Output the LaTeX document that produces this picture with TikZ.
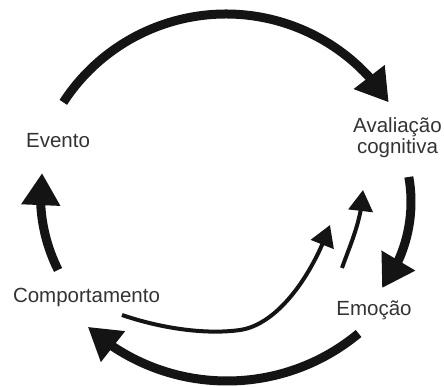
\documentclass[tikz,border=0pt]{standalone}
\usepackage{fontspec}
\setmainfont{Liberation Sans}
\usetikzlibrary{arrows.meta,calc,bending}
\begin{document}
\begin{tikzpicture}[x=1pt,y=1pt,
  thickarr/.style={line width=9pt, draw=black!92, -{Triangle[length=32pt,width=37pt,flex]}},
  thinarr/.style={line width=4pt, draw=black!92, -{Triangle[length=21pt,width=24pt,flex]}},
  lbl/.style={font={\fontsize{20.5}{21}\selectfont}, text=black!80, inner sep=0pt, anchor=base, align=center}]
\useasboundingbox (0,0) rectangle (444,387);

% labels
\node[lbl] (evento) at (58,239) {Evento};
\node[lbl] (aval) at (397.5,233) {Avaliação\\cognitiva};
\node[lbl] (emocao) at (374,71) {Emoção};
\node[lbl] (comp) at (86.5,84) {Comportamento};

% arc centres
\coordinate (cTop) at (226,179);
\coordinate (cBot) at (227,212);
\coordinate (cLeft) at (205.5,191.2);
\coordinate (cRight) at (268,185.2);

% free ends of the connectors
\coordinate (topS) at ($(cTop)+(147:194)$);
\coordinate (botS) at ($(cBot)+(-50.3:206)$);
\coordinate (leftS) at ($(cLeft)+(206.7:165)$);
\coordinate (rightS) at ($(cRight)+(10:143)$);

% Evento -> Avaliacao
\draw[thickarr] (topS) arc[start angle=147, end angle=33, radius=194];
% Avaliacao -> Emocao
\draw[thickarr] (rightS) arc[start angle=10, end angle=-37.1, radius=143];
% Emocao -> Comportamento
\draw[thickarr] (botS) arc[start angle=-50.3, end angle=-132.5, radius=206];
% Comportamento -> Evento
\draw[thickarr] (leftS) arc[start angle=206.7, end angle=172.1, radius=165];

% thin arrows
\coordinate (aS) at (122,72);
\coordinate (aM) at (240,57);
\coordinate (aE) at (330,162);
\draw[thinarr] (aS) .. controls (160,59) and (205,52) .. (aM)
                    .. controls (275,62) and (310,106) .. (aE);
\coordinate (bS) at (342,119);
\coordinate (bE) at (363,197);
\draw[thinarr] (bS) .. controls (350,142) and (362,167) .. (bE);
\end{tikzpicture}
\end{document}
